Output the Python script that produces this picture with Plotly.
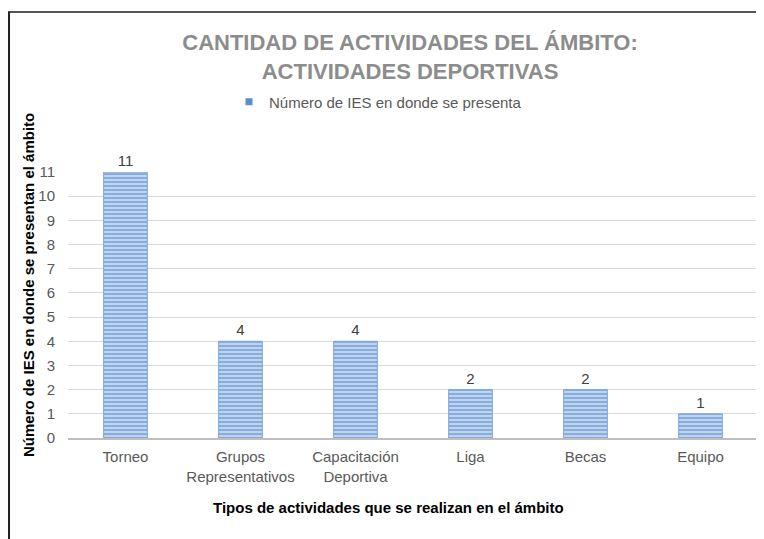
import plotly.graph_objects as go

categories = ["Torneo", "Grupos<br>Representativos", "Capacitación<br>Deportiva", "Liga", "Becas", "Equipo"]
values = [11, 4, 4, 2, 2, 1]
series_name = "Número de IES en donde se presenta"
title_text = "CANTIDAD DE ACTIVIDADES DEL ÁMBITO:<br>ACTIVIDADES DEPORTIVAS"
y_title = "Número de IES en donde se presentan el ámbito"
x_title = "Tipos de actividades que se realizan en el ámbito"
y_ticks = list(range(0, 12))

# The page body has an 8px margin; work in screenshot pixels and convert.
OFF = 8
SW, SH = 764, 539
W, H = SW - OFF, SH - OFF
# plot area in screenshot pixels
PX0, PX1, PY0, PY1 = 68, 758, 172, 438
L, R, T, B = PX0 - OFF, SW - PX1, PY0 - OFF, SH - PY1
pw, ph = PX1 - PX0, PY1 - PY0

def px_x(p):
    return (p - PX0) / pw

def px_y(p):
    return (PY1 - p) / ph

font_main = "Liberation Sans, Arial, sans-serif"
txt_gray = "#595959"

fig = go.Figure()
fig.add_trace(go.Bar(
    x=categories, y=values, name=series_name,
    text=[str(v) for v in values], textposition="outside",
    textfont=dict(size=15, color="#404040", family=font_main),
    cliponaxis=False,
    marker=dict(
        color="#c9dbf2",
        line=dict(width=1, color="#7fa6dc"),
        pattern=dict(shape="-", fgcolor="#4479c6", bgcolor="#cddef3", size=4, solidity=0.6),
    ),
    showlegend=False,
))
# legend-only entry with a small square swatch, like the reference
fig.add_trace(go.Scatter(
    x=[None], y=[None], mode="markers", name=series_name,
    marker=dict(symbol="square", size=7, color="#5b8bd0"),
    showlegend=True,
))

fig.update_layout(
    width=W, height=H,
    margin=dict(l=L, r=R, t=T, b=B),
    paper_bgcolor="white", plot_bgcolor="white",
    bargap=0.62,
    title=dict(
        text=title_text, x=(410 - OFF) / W, xanchor="center", y=1 - (50 - OFF) / H, yanchor="middle",
        font=dict(family=font_main, size=22, color="#8c8c8c", weight="bold"),
    ),
    legend=dict(
        orientation="h", x=px_x(378), xanchor="center", y=px_y(102), yanchor="middle",
        font=dict(family=font_main, size=15, color=txt_gray),
        itemwidth=30,
    ),
    xaxis=dict(
        showgrid=False, showline=True, linecolor="#bfbfbf", linewidth=2,
        ticks="", ticklabelstandoff=4,
        tickfont=dict(family=font_main, size=15, color=txt_gray),
    ),
    yaxis=dict(
        range=[0, 11], tickvals=y_ticks, showgrid=True, gridcolor="#d9d9d9", gridwidth=1,
        zeroline=False, showline=False, ticks="", ticklabelstandoff=12,
        tickfont=dict(family=font_main, size=15, color=txt_gray),
    ),
    annotations=[
        dict(text=y_title, xref="paper", yref="paper", x=px_x(28), y=px_y(285),
             textangle=-90, showarrow=False, xanchor="center", yanchor="middle",
             font=dict(family=font_main, size=15, color="#000000", weight="bold")),
        dict(text=x_title, xref="paper", yref="paper", x=px_x(388), y=px_y(507),
             showarrow=False, xanchor="center", yanchor="middle",
             font=dict(family=font_main, size=15, color="#000000", weight="bold")),
    ],
    shapes=[
        dict(type="line", xref="paper", yref="paper", x0=px_x(OFF), x1=px_x(SW + 5),
             y0=px_y(12), y1=px_y(12), line=dict(color="#555555", width=2)),
        dict(type="line", xref="paper", yref="paper", x0=px_x(OFF + 1), x1=px_x(OFF + 1),
             y0=px_y(12), y1=px_y(SH + 5), line=dict(color="#222222", width=2)),
    ],
)

fig.write_html("out.html")
